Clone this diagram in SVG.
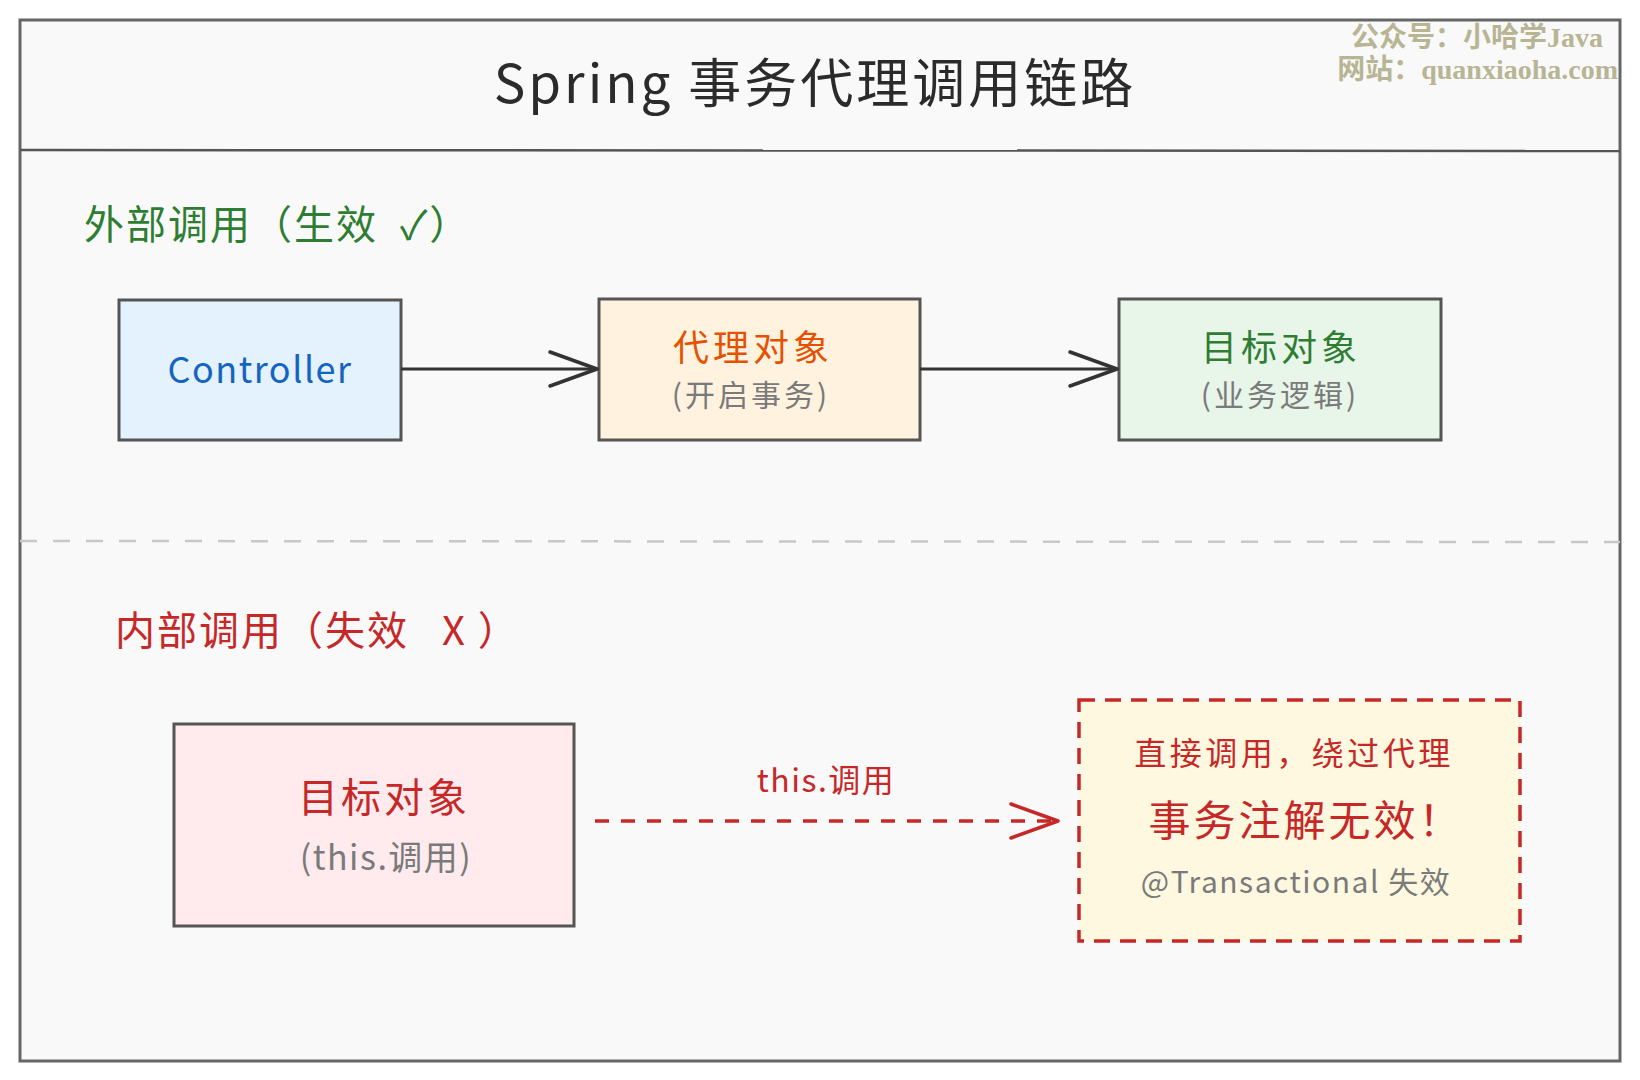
<svg xmlns="http://www.w3.org/2000/svg" width="1640" height="1080" viewBox="0 0 1640 1080">
  <style>
    .t { font-family: "Noto Sans CJK SC", "Noto Sans", sans-serif; }
    .box { stroke: #555555; stroke-width: 3; }
    .sub { fill: #7a7a7a; font-size: 30px; }
    .wm { font-family: "Liberation Serif", "Noto Sans CJK SC", serif; font-weight: bold; fill: #b8b595; font-size: 28px; }
  </style>
  <defs>
    <marker id="arrDark" markerUnits="userSpaceOnUse" markerWidth="60" markerHeight="50" refX="50" refY="25" orient="auto" viewBox="0 0 60 50">
      <path d="M3,8 L50,25 L3,42" fill="none" stroke="#333333" stroke-width="3.5" stroke-linecap="round" stroke-linejoin="round"/>
    </marker>
    <marker id="arrRed" markerUnits="userSpaceOnUse" markerWidth="60" markerHeight="50" refX="50" refY="25" orient="auto" viewBox="0 0 60 50">
      <path d="M3,8 L50,25 L3,42" fill="none" stroke="#c62828" stroke-width="3.5" stroke-linecap="round" stroke-linejoin="round"/>
    </marker>
  </defs>

  <rect x="0" y="0" width="1640" height="1080" fill="#ffffff"/>
  <rect id="frame" x="20" y="20" width="1600" height="1041" fill="#f9f9f9" stroke="#666666" stroke-width="3"/>
  <line x1="20" y1="150" x2="1620" y2="151" stroke="#555555" stroke-width="2.5"/>
  <line x1="20" y1="541" x2="1620" y2="542" stroke="#c8c8c8" stroke-width="2.5" stroke-dasharray="17 16"/>

  <g id="title">
    <text class="t" x="815" y="103" text-anchor="middle" font-size="53" letter-spacing="3" fill="#2b2b2b">Spring 事务代理调用链路</text>
  </g>
  <g id="watermark">
    <text class="wm" x="1603" y="47" text-anchor="end">公众号：小哈学Java</text>
    <text class="wm" x="1618" y="79" text-anchor="end">网站：quanxiaoha.com</text>
  </g>

  <g id="label-external">
    <text class="t" x="84" y="239" font-size="40" letter-spacing="2" fill="#2e7d32">外部调用（生效&#160;&#160;✓）</text>
  </g>
  <g id="label-internal">
    <text class="t" x="115" y="645" font-size="40" letter-spacing="2" fill="#c62828">内部调用（失效&#160;&#160;&#160;X&#160;）</text>
  </g>

  <g id="node-controller">
    <rect class="box" x="119" y="300" width="282" height="140" fill="#e3f2fd"/>
    <text class="t" x="260" y="383" text-anchor="middle" font-size="36" letter-spacing="1.5" fill="#1565c0">Controller</text>
  </g>

  <g id="node-proxy">
    <rect class="box" x="599" y="299" width="321" height="141" fill="#fff3e0"/>
    <text class="t" x="753" y="361" text-anchor="middle" font-size="36" letter-spacing="4" fill="#e65100">代理对象</text>
    <text class="t sub" x="751" y="406" text-anchor="middle" letter-spacing="3">(开启事务)</text>
  </g>

  <g id="node-target">
    <rect class="box" x="1119" y="299" width="322" height="141" fill="#e8f5e9"/>
    <text class="t" x="1281" y="361" text-anchor="middle" font-size="36" letter-spacing="4" fill="#2e7d32">目标对象</text>
    <text class="t sub" x="1280" y="406" text-anchor="middle" letter-spacing="3">(业务逻辑)</text>
  </g>

  <g id="node-target-internal">
    <rect class="box" x="174" y="724" width="400" height="202" fill="#ffebee"/>
    <text class="t" x="384" y="812" text-anchor="middle" font-size="40" letter-spacing="3" fill="#c62828">目标对象</text>
    <text class="t" x="386" y="870" text-anchor="middle" font-size="34" letter-spacing="1.5" fill="#7a7a7a">(this.调用)</text>
  </g>

  <g id="node-fail">
    <rect x="1079" y="700" width="441" height="241" fill="#fff8e1" stroke="#c62828" stroke-width="3.5" stroke-dasharray="16 10"/>
    <text class="t" x="1294" y="765" text-anchor="middle" font-size="32" letter-spacing="3.5" fill="#c62828">直接调用，绕过代理</text>
    <text class="t" x="1306" y="836" text-anchor="middle" font-size="42" letter-spacing="3" fill="#c62828">事务注解无效！</text>
    <text class="t" x="1296" y="893" text-anchor="middle" font-size="30" letter-spacing="1.5" fill="#7a7a7a">@Transactional 失效</text>
  </g>

  <g id="connectors">
    <line x1="401" y1="369" x2="597" y2="369" stroke="#333333" stroke-width="3" marker-end="url(#arrDark)"/>
    <line x1="920" y1="369" x2="1117" y2="369" stroke="#333333" stroke-width="3" marker-end="url(#arrDark)"/>
    <line x1="595" y1="821" x2="1058" y2="821" stroke="#c62828" stroke-width="3.5" stroke-dasharray="14 12" marker-end="url(#arrRed)"/>
    <text class="t" x="826" y="792" text-anchor="middle" font-size="32" letter-spacing="1.5" fill="#c62828">this.调用</text>
  </g>
</svg>
